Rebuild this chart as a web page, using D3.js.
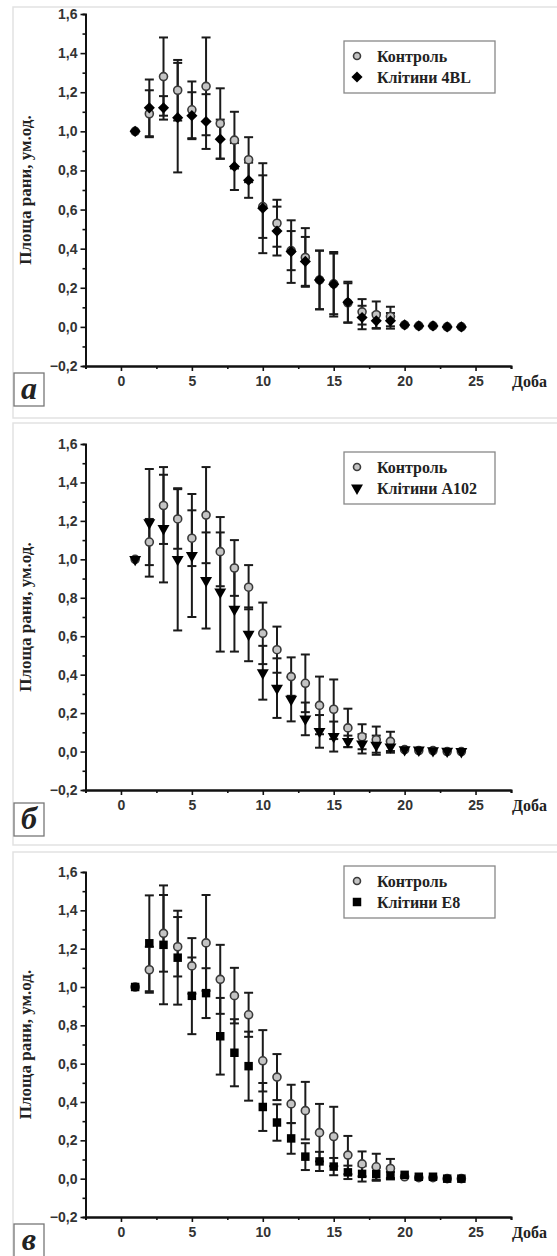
<!DOCTYPE html>
<html>
<head>
<meta charset="utf-8">
<script src="https://cdn.jsdelivr.net/npm/d3@7"></script>
<style>
  body { margin: 0; background: #fff; }
  svg { display: block; }
  .tick text { font-family: "Liberation Sans", Arial, sans-serif; font-weight: bold; font-size: 14px; fill: #333; }
  .serif { font-family: "Liberation Serif", "Times New Roman", serif; font-weight: bold; fill: #222; }
</style>
</head>
<body>
<svg width="557" height="1256"></svg>
<script>
// days 1..24
const days = d3.range(1, 25);

// control (open circles), same in all three panels
const controlMean = [1.00, 1.09, 1.28, 1.21, 1.11, 1.23, 1.04, 0.955, 0.855, 0.615, 0.53, 0.39, 0.355, 0.24, 0.22, 0.123, 0.077, 0.062, 0.053, 0.01, 0.005, 0.005, 0.0, 0.0];
const controlErr  = [0, 0.12, 0.20, 0.155, 0.145, 0.25, 0.18, 0.145, 0.115, 0.16, 0.12, 0.10, 0.15, 0.15, 0.155, 0.10, 0.065, 0.068, 0.05, 0, 0, 0, 0, 0];

// cells 4BL (diamonds)
const mean4BL = [1.00, 1.12, 1.12, 1.07, 1.08, 1.05, 0.96, 0.82, 0.75, 0.607, 0.49, 0.385, 0.335, 0.24, 0.218, 0.126, 0.048, 0.031, 0.031, 0.01, 0.005, 0.005, 0.0, 0.0];
const err4BL  = [0, 0.145, 0.06, 0.28, 0.12, 0.14, 0.10, 0.12, 0.09, 0.23, 0.125, 0.16, 0.125, 0.15, 0.165, 0.105, 0.06, 0.04, 0.04, 0, 0, 0, 0, 0];

// cells A102 (triangles)
const meanA102 = [1.00, 1.19, 1.16, 1.00, 1.02, 0.89, 0.83, 0.74, 0.61, 0.41, 0.33, 0.272, 0.17, 0.105, 0.078, 0.053, 0.04, 0.033, 0.024, 0.01, 0.008, 0.005, 0.002, 0.0];
const errA102  = [0, 0.28, 0.28, 0.37, 0.32, 0.25, 0.31, 0.22, 0.14, 0.14, 0.155, 0.115, 0.085, 0.085, 0.078, 0.03, 0.05, 0.05, 0.03, 0, 0, 0, 0, 0];

// cells E8 (squares)
const meanE8 = [1.00, 1.228, 1.22, 1.153, 0.954, 0.968, 0.743, 0.657, 0.587, 0.374, 0.293, 0.21, 0.115, 0.09, 0.063, 0.033, 0.025, 0.024, 0.016, 0.02, 0.01, 0.01, 0.0, 0.0];
const errE8  = [0, 0.25, 0.31, 0.245, 0.2, 0.13, 0.2, 0.175, 0.18, 0.125, 0.095, 0.08, 0.07, 0.05, 0.045, 0.035, 0.04, 0.035, 0.02, 0, 0, 0, 0, 0];

const xTicks = [0, 5, 10, 15, 20, 25];
const yTicks = [-0.2, 0.0, 0.2, 0.4, 0.6, 0.8, 1.0, 1.2, 1.4, 1.6];
const controlName = "Контроль";
const yTitle = "Площа рани, ум.од.";
const xTitle = "Доба";

const panels = [
  { letter: "а", name: "Клітини 4BL", mean: mean4BL, err: err4BL, shape: "diamond",
    frame: [7, 418], yTop: 14, yBot: 366, legend: 41, box: 373 },
  { letter: "б", name: "Клітини А102", mean: meanA102, err: errA102, shape: "triangle",
    frame: [423, 845], yTop: 444, yBot: 790, legend: 452, box: 803 },
  { letter: "в", name: "Клітини Е8", mean: meanE8, err: errE8, shape: "square",
    frame: [852, 1262], yTop: 872, yBot: 1217, legend: 866, box: 1224 }
];

const svg = d3.select("svg");
const fmt = d => d3.format(".1f")(d).replace(".", ",");

const x = d3.scaleLinear().domain([-2.5, 27.5]).range([85.5, 511]);

function marker(shape) {
  if (shape === "diamond") return d3.symbol().type(d3.symbolSquare).size(62)();
  if (shape === "square") return d3.symbol().type(d3.symbolSquare).size(72)();
  return d3.symbol().type(d3.symbolTriangle).size(62)();
}
function turn(shape) {
  if (shape === "diamond") return " rotate(45)";
  if (shape === "triangle") return " rotate(180)";
  return "";
}

panels.forEach(p => {
  const g = svg.append("g");

  g.append("rect")
    .attr("x", 13).attr("y", p.frame[0])
    .attr("width", 560).attr("height", p.frame[1] - p.frame[0])
    .attr("fill", "#fff").attr("stroke", "#e2e2e2").attr("stroke-width", 1.5);

  const y = d3.scaleLinear().domain([-0.2, 1.6]).range([p.yBot, p.yTop]);

  // minor ticks
  const xAxisMinor = d3.axisBottom(x).tickValues(d3.range(-2.5, 27.6, 2.5).filter(v => v % 5 !== 0)).tickSize(3).tickFormat("");
  const yAxisMinor = d3.axisLeft(y).tickValues(d3.range(-0.1, 1.6, 0.2)).tickSize(3).tickFormat("");
  g.append("g").attr("transform", `translate(0,${p.yBot})`).call(xAxisMinor);
  g.append("g").attr("transform", `translate(${x.range()[0]},0)`).call(yAxisMinor);

  const xAxis = d3.axisBottom(x).tickValues(xTicks).tickSize(5).tickPadding(5).tickSizeOuter(0).tickFormat(d3.format("d"));
  const yAxis = d3.axisLeft(y).tickValues(yTicks).tickSize(5).tickPadding(3).tickSizeOuter(0).tickFormat(fmt);
  g.append("g").attr("class", "xaxis").attr("transform", `translate(0,${p.yBot})`).call(xAxis);
  g.append("g").attr("class", "yaxis").attr("transform", `translate(${x.range()[0]},0)`).call(yAxis);

  g.selectAll(".domain").attr("stroke", "#111").attr("stroke-width", 2);
  g.selectAll(".tick line").attr("stroke", "#111").attr("stroke-width", 1.6);

  // axis titles
  g.append("text").attr("class", "serif")
    .attr("transform", `translate(31,${(p.yTop + p.yBot) / 2}) rotate(-90)`)
    .attr("text-anchor", "middle").attr("font-size", 17).text(yTitle);
  g.append("text").attr("class", "serif")
    .attr("x", 512).attr("y", p.yBot + 21).attr("font-size", 16).text(xTitle);

  // series data
  const ctrl = days.map((d, i) => ({ d, m: controlMean[i], e: controlErr[i] }));
  const cell = days.map((d, i) => ({ d, m: p.mean[i], e: p.err[i] }));

  function bars(data) {
    const eb = g.append("g").attr("stroke", "#1a1a1a").attr("stroke-width", 2);
    data.filter(v => v.e > 0).forEach(v => {
      const cx = x(v.d), y1 = y(v.m + v.e), y2 = y(v.m - v.e);
      eb.append("line").attr("x1", cx).attr("x2", cx).attr("y1", y1).attr("y2", y2);
      eb.append("line").attr("x1", cx - 4.5).attr("x2", cx + 4.5).attr("y1", y1).attr("y2", y1);
      eb.append("line").attr("x1", cx - 4.5).attr("x2", cx + 4.5).attr("y1", y2).attr("y2", y2);
    });
  }
  bars(ctrl);
  bars(cell);

  g.append("g").selectAll("circle").data(ctrl).join("circle")
    .attr("cx", v => x(v.d)).attr("cy", v => y(v.m)).attr("r", 4)
    .attr("fill", "#c4c4c4").attr("stroke", "#3a3a3a").attr("stroke-width", 1.6);

  const path = marker(p.shape);
  g.append("g").selectAll("path").data(cell).join("path")
    .attr("d", path)
    .attr("transform", v => `translate(${x(v.d)},${y(v.m)})` + turn(p.shape))
    .attr("fill", "#000");

  // legend
  const lg = g.append("g").attr("transform", `translate(344,${p.legend})`);
  lg.append("rect").attr("width", 151).attr("height", 52)
    .attr("fill", "#fff").attr("stroke", "#888").attr("stroke-width", 1.3);
  lg.append("circle").attr("cx", 13).attr("cy", 15).attr("r", 3.5)
    .attr("fill", "#c4c4c4").attr("stroke", "#3a3a3a").attr("stroke-width", 1.6);
  lg.append("path").attr("d", marker(p.shape))
    .attr("transform", `translate(13,36)` + turn(p.shape))
    .attr("fill", "#000");
  lg.append("text").attr("class", "serif").attr("x", 33).attr("y", 21).attr("font-size", 16).text(controlName);
  lg.append("text").attr("class", "serif").attr("x", 33).attr("y", 42).attr("font-size", 16).text(p.name);

  // panel letter box
  const bx = g.append("g").attr("transform", `translate(14,${p.box})`);
  bx.append("rect").attr("width", 30).attr("height", 33)
    .attr("fill", "#fff").attr("stroke", "#777").attr("stroke-width", 1.3);
  bx.append("text").attr("class", "serif").attr("x", 15).attr("y", 26)
    .attr("text-anchor", "middle").attr("font-style", "italic").attr("font-size", 32)
    .text(p.letter);
});
</script>
</body>
</html>
